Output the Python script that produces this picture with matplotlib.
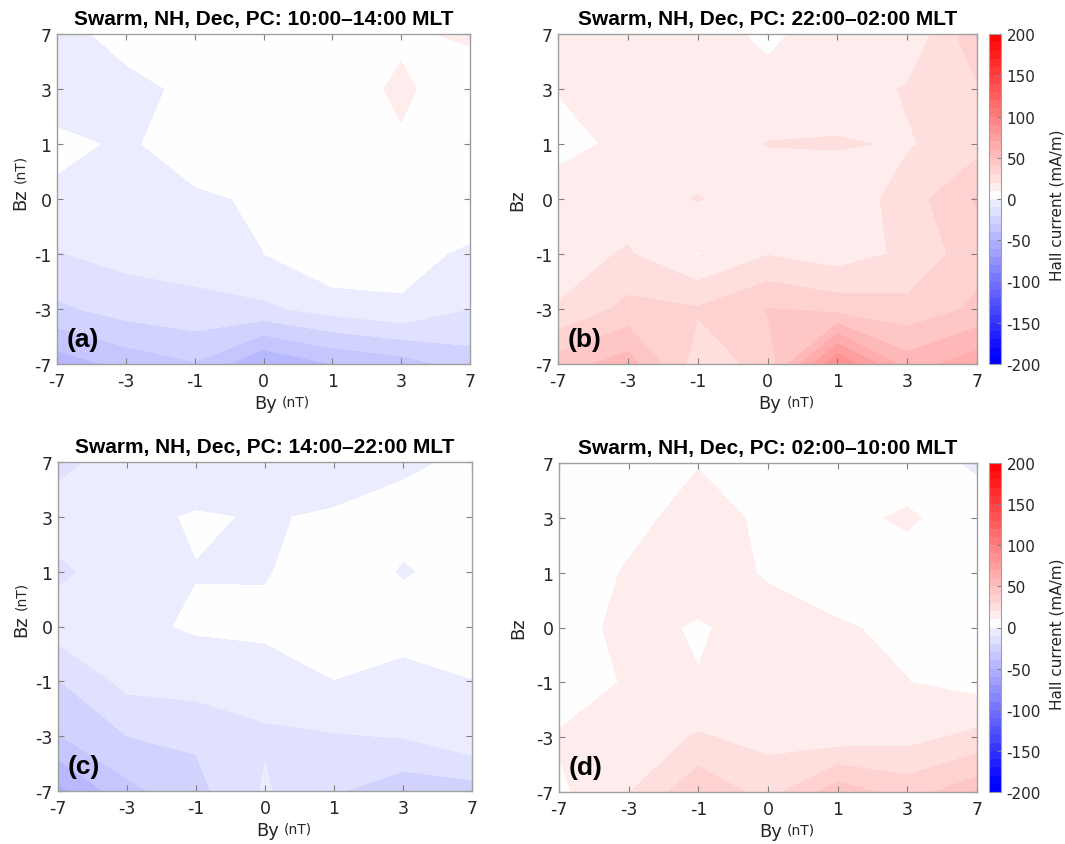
import numpy as np
import matplotlib
matplotlib.use('Agg')
import matplotlib.pyplot as plt
from matplotlib.colors import LinearSegmentedColormap

plt.rcParams['axes.unicode_minus'] = False

by_labels = ['-7', '-3', '-1', '0', '1', '3', '7']
bz_labels = ['-7', '-3', '-1', '0', '1', '3', '7']
titles = ['Swarm, NH, Dec, PC: 10:00\u201314:00 MLT',
          'Swarm, NH, Dec, PC: 22:00\u201302:00 MLT',
          'Swarm, NH, Dec, PC: 14:00\u201322:00 MLT',
          'Swarm, NH, Dec, PC: 02:00\u201310:00 MLT']
tags = ['(a)', '(b)', '(c)', '(d)']

# Hall current (mA/m); rows are Bz = 7, 3, 1, 0, -1, -3, -7 (top to bottom),
# columns are By = -7, -3, -1, 0, 1, 3, 7
hall_a = [[-5, 5, 3, 3, 4, 8, 12],
          [-7, -4, 3, 4, 4, 12, 3],
          [3, -1.8, 6, 4, 5, 8.7, 4],
          [-2.5, -4, -1.8, 1.5, 5, 5, 8],
          [-10.5, -7, -6, -0.1, 9, 3.9, -2],
          [-22, -15.6, -12.8, -12, -6, -1.6, -10],
          [-46, -36.6, -30.8, -50, -40, -35, -25]]

hall_b = [[14, 15, 16, 7, 17, 11, 38],
          [10.5, 14, 14, 14.5, 14, 21, 29],
          [6, 12.8, 15, 20.3, 21, 19, 26],
          [16, 15, 20.5, 15, 12, 25, 41],
          [16, 21, 9.5, 19.5, 15, 22, 36],
          [20.6, 33, 31, 40.5, 36, 33, 42],
          [45, 55, 25, 33, 90, 55, 66]]

hall_c = [[-13, -5, -8, -4, -6, -2, 2],
          [-5, -3, 1, -0.8, 1.2, 4, 4],
          [-12, -5, -0.3, -1, 7.3, -1, 4],
          [-5, -2, 1, 3, 6, 5, 4],
          [-20.5, -7, -5.25, -7, -0.2, -4.1, -0.2],
          [-30.5, -20, -18.5, -11, -10.7, -9.5, -2.3],
          [-53, -33, -23, -9, -19, -26, -24.5]]

hall_d = [[5, 6, 9.5, 5, 4, 6, -2],
          [-0.5, 7, 14, 8, 8, 11, 6],
          [4, 11, 15, 9, 5, 7, 5],
          [5, 13, 9, 14, 11, 8, 5],
          [4, 11.1, 10.4, 14, 13, 10.2, 6],
          [11, 14, 21, 17, 14.4, 16.6, 22.9],
          [8, 19.5, 38, 26, 45.6, 36, 46.6]]

levels = np.arange(-200, 201, 10)
bwr = LinearSegmentedColormap.from_list('bwr2', ['#0000ff', '#ffffff', '#ff0000'])
# [0,10) stays white, each band further out is shaded half a step past its edge
band_colors = []
for lv in levels[:-1]:
    n = abs(lv) / 10.0
    frac = 0.0 if lv == 0 else min((n + 0.5) * 0.025, 0.5)
    band_colors.append(bwr(0.5 + frac if lv >= 0 else 0.5 - frac))

W, H = 1065.0, 845.0
fig = plt.figure(figsize=(W / 100, H / 100), dpi=100)


def px_box(l, r, t, b):
    return [l / W, 1 - b / H, (r - l) / W, (b - t) / H]


boxes = [px_box(57, 470, 35, 365), px_box(558, 977, 35, 365),
         px_box(58, 472, 463, 792), px_box(559, 977, 464, 793)]
grids = [hall_a, hall_b, hall_c, hall_d]
grey = '#a0a0a0'
dark = '#262626'

cs = None
for k in range(4):
    ax = fig.add_axes(boxes[k])
    z = np.flipud(np.array(grids[k], dtype=float))
    cs = ax.contourf(np.arange(7), np.arange(7), z, levels=levels, colors=band_colors)
    ax.set_xlim(0, 6)
    ax.set_ylim(0, 6)
    ax.set_xticks(range(7))
    ax.set_xticklabels(by_labels)
    ax.set_yticks(range(7))
    ax.set_yticklabels(bz_labels)
    ax.tick_params(direction='in', top=True, right=True, length=4, width=0.8,
                   color='#808080', labelcolor=dark, labelsize=12.5)
    ax.tick_params(axis='x', pad=6)
    ax.tick_params(axis='y', pad=4)
    for s in ax.spines.values():
        s.set_color(grey)
        s.set_linewidth(1.0)
    ax.set_title(titles[k], fontsize=15, fontweight='bold', family='Liberation Sans',
                 pad=7, color='black')
    ax.text(0.024, 0.075, tags[k], transform=ax.transAxes, fontsize=19,
            fontweight='bold', family='Liberation Sans', ha='left', va='center')

    # x label "By (nT)"
    l, r = boxes[k][0] * W, (boxes[k][0] + boxes[k][2]) * W
    t, b = (1 - boxes[k][1] - boxes[k][3]) * H, (1 - boxes[k][1]) * H
    xb = l + 0.533 * (r - l)
    yb = b + 39
    fig.text(xb / W, 1 - yb / H, 'By', fontsize=13, color=dark, ha='right', va='center')
    fig.text((xb + 5) / W, 1 - (yb - 1) / H, '(nT)', fontsize=10, color=dark,
             ha='left', va='center')
    # y label
    if k in (0, 2):
        yc = b - 0.47 * (b - t)
        fig.text((l - 37) / W, 1 - yc / H, 'Bz', fontsize=13, color=dark, rotation=90,
                 ha='center', va='bottom')
        fig.text((l - 37) / W, 1 - (yc - 27) / H, '(nT)', fontsize=10, color=dark,
                 rotation=90, ha='center', va='bottom')
    else:
        ax.set_ylabel('Bz', fontsize=13, color=dark, labelpad=6)

for cb_box, lab_y in [(px_box(989, 1001, 35, 365), 205), (px_box(989, 1001, 464, 793), 634)]:
    cax = fig.add_axes(cb_box)
    cb = fig.colorbar(cs, cax=cax, ticks=np.arange(-200, 201, 50))
    cb.outline.set_edgecolor(grey)
    cb.outline.set_linewidth(0.8)
    cax.tick_params(direction='in', length=3, color='#808080', labelcolor=dark,
                    labelsize=11, pad=4)
    fig.text(1057 / W, 1 - lab_y / H, 'Hall current (mA/m)', fontsize=11, color=dark,
             rotation=90, ha='center', va='center')

fig.savefig('out.png', dpi=100)
